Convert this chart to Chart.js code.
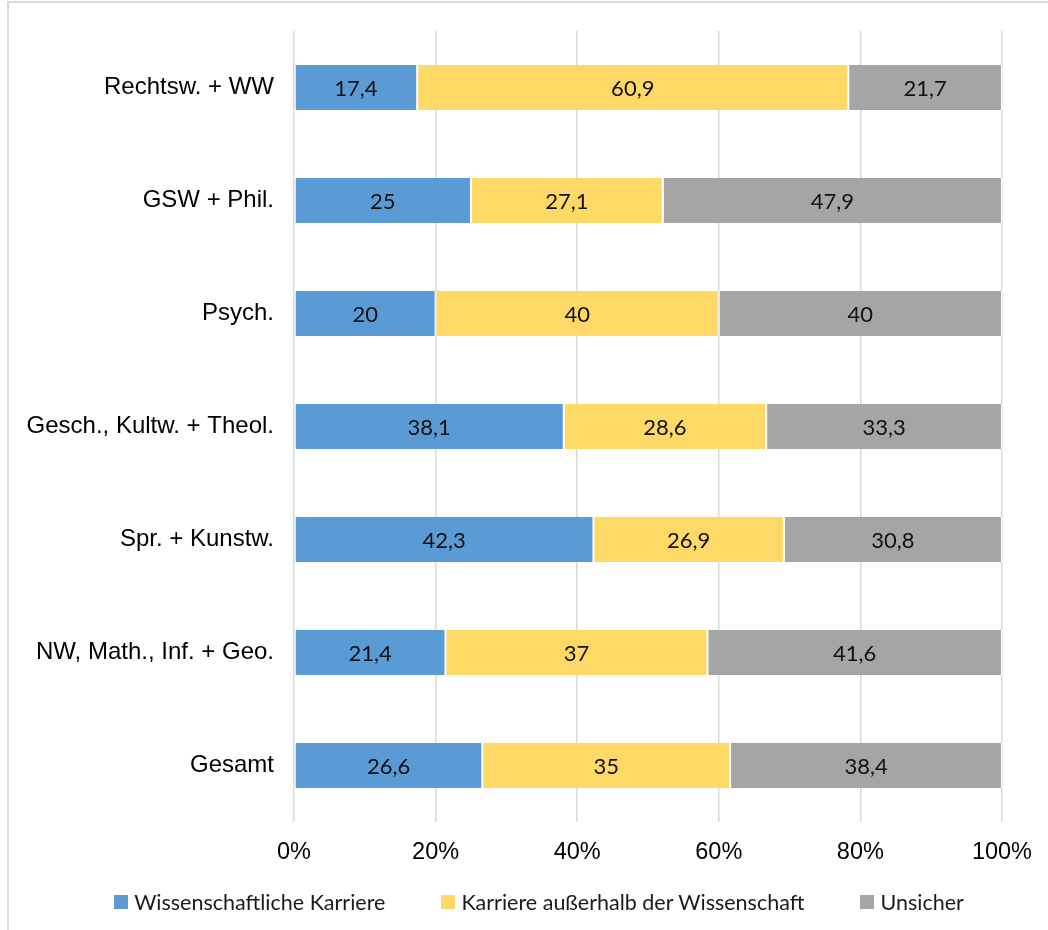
<!DOCTYPE html>
<html>
<head>
<meta charset="utf-8">
<script src="https://cdn.jsdelivr.net/npm/chart.js@4.4.1/dist/chart.umd.min.js"></script>
<style>
  body { margin: 0; background: #fff; }
  #wrap { position: relative; width: 1048px; height: 930px; overflow: hidden; }
  #frame { position: absolute; left: 7px; top: 1px; width: 1100px; height: 1000px; border: 2px solid #D9D9D9; box-sizing: border-box; }
  #chart { position: absolute; left: 0; top: 0; }
  #legend { position: absolute; left: 0; top: 889px; width: 1078px; display: flex; justify-content: center; gap: 56px;
            font-family: Lato, "Open Sans", sans-serif; font-size: 21.5px; color: #1a1a1a; }
  #legend .item { display: flex; align-items: center; }
  #legend .box { width: 14px; height: 14px; margin-right: 6px; }
</style>
</head>
<body>
<div id="wrap">
  <div id="frame"></div>
  <canvas id="chart" width="1048" height="930"></canvas>
  <div id="legend"></div>
</div>
<script>
const kategorien = [
  "Rechtsw. + WW",
  "GSW + Phil.",
  "Psych.",
  "Gesch., Kultw. + Theol.",
  "Spr. + Kunstw.",
  "NW, Math., Inf. + Geo.",
  "Gesamt"
];

const wissenschaftlich = [17.4, 25, 20, 38.1, 42.3, 21.4, 26.6];
const ausserhalb = [60.9, 27.1, 40, 28.6, 26.9, 37, 35];
const unsicher = [21.7, 47.9, 40, 33.3, 30.8, 41.6, 38.4];

const serienNamen = ["Wissenschaftliche Karriere", "Karriere außerhalb der Wissenschaft", "Unsicher"];
const farben = ["#5B9BD5", "#FFD966", "#A5A5A5"];

const xTicks = [0, 20, 40, 60, 80, 100];

// Werte mittig in die Balken schreiben
const wertLabels = {
  id: "wertLabels",
  afterDatasetsDraw(chart) {
    const ctx = chart.ctx;
    ctx.save();
    ctx.font = "22px Lato, 'Open Sans', sans-serif";
    ctx.fillStyle = "#111";
    ctx.textAlign = "center";
    ctx.textBaseline = "middle";
    chart.data.datasets.forEach((ds, i) => {
      const meta = chart.getDatasetMeta(i);
      meta.data.forEach((bar, j) => {
        const p = bar.getProps(["x", "y", "base"], true);
        const txt = String(ds.data[j]).replace(".", ",");
        ctx.fillText(txt, (p.x + p.base) / 2, p.y + 1);
      });
    });
    ctx.restore();
  }
};

const datasets = [wissenschaftlich, ausserhalb, unsicher].map((werte, i) => ({
  label: serienNamen[i],
  data: werte,
  backgroundColor: farben[i],
  borderColor: "#fff",
  borderWidth: { left: 1, right: 1, top: 0, bottom: 0 },
  borderSkipped: false,
  categoryPercentage: 1,
  barPercentage: 0.4
}));

new Chart(document.getElementById("chart"), {
  type: "bar",
  data: { labels: kategorien, datasets: datasets },
  options: {
    indexAxis: "y",
    responsive: false,
    devicePixelRatio: 1,
    animation: false,
    layout: { padding: { top: 31, right: 45, bottom: 58, left: 0 } },
    plugins: {
      legend: { display: false },
      tooltip: { enabled: false }
    },
    scales: {
      x: {
        stacked: true,
        min: 0,
        max: 100,
        afterBuildTicks: (scale) => { scale.ticks = xTicks.map((v) => ({ value: v })); },
        afterFit: (scale) => { scale.height = 50; },
        grid: { color: "#D9D9D9", lineWidth: 1.5, drawTicks: false },
        border: { display: false },
        ticks: {
          padding: 16,
          color: "#000",
          font: { family: "'Liberation Sans', Arial, sans-serif", size: 23.5 },
          callback: (v) => v + "%"
        }
      },
      y: {
        stacked: true,
        afterFit: (scale) => {
          scale.width = 294;
          scale.paddingTop = 0;
          scale.paddingBottom = 0;
        },
        grid: { display: false, drawTicks: false },
        border: { display: false },
        ticks: {
          padding: 20,
          color: "#000",
          font: { family: "'Liberation Sans', Arial, sans-serif", size: 24 }
        }
      }
    }
  },
  plugins: [wertLabels]
});

// Legende als HTML
const legend = document.getElementById("legend");
serienNamen.forEach((name, i) => {
  const item = document.createElement("div");
  item.className = "item";
  const box = document.createElement("span");
  box.className = "box";
  box.style.background = farben[i];
  const txt = document.createElement("span");
  txt.textContent = name;
  item.appendChild(box);
  item.appendChild(txt);
  legend.appendChild(item);
});
</script>
</body>
</html>
